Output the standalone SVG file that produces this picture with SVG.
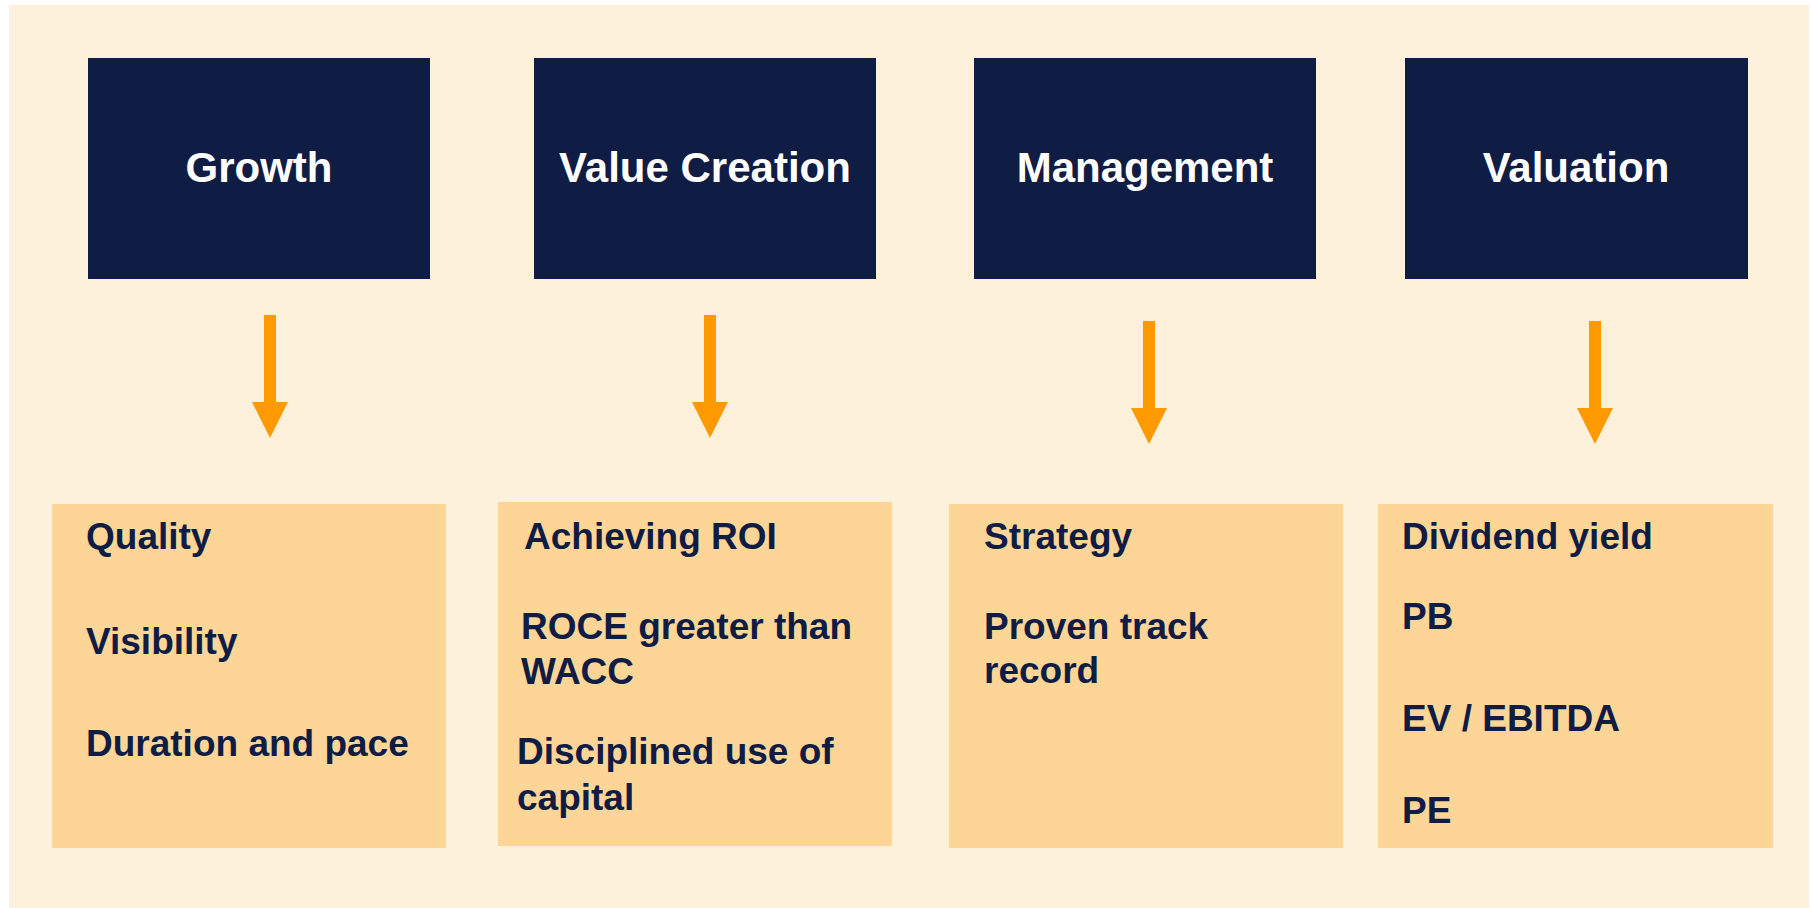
<svg xmlns="http://www.w3.org/2000/svg" width="1811" height="908" viewBox="0 0 1811 908">
<defs>
<style>
.bg{fill:#FEF1DB}
.head{fill:#0F1C44}
.card{fill:#FDD597}
.ht{font-family:"Liberation Sans",Arial,sans-serif;font-weight:bold;font-size:42px;fill:#FFFFFF;text-anchor:middle}
.bt{font-family:"Liberation Sans",Arial,sans-serif;font-weight:bold;font-size:37px;fill:#0F1C44}
.arr{stroke:#FF9900;stroke-width:12;fill:none;marker-end:url(#ah)}
</style>
<marker id="ah" markerUnits="userSpaceOnUse" markerWidth="36" markerHeight="36" viewBox="0 0 36 36" refX="0" refY="18" orient="auto">
<path d="M0,0 L36,18 L0,36 z" fill="#FF9900"/>
</marker>
</defs>
<rect class="bg" x="9" y="5" width="1800" height="903"/>

<g id="growth">
<rect class="head" x="88" y="58" width="342" height="221"/>
<text class="ht" x="259" y="182">Growth</text>
</g>
<g id="value-creation">
<rect class="head" x="534" y="58" width="342" height="221"/>
<text class="ht" x="705" y="182">Value Creation</text>
</g>
<g id="management">
<rect class="head" x="974" y="58" width="342" height="221"/>
<text class="ht" x="1145" y="182">Management</text>
</g>
<g id="valuation">
<rect class="head" x="1405" y="58" width="343" height="221"/>
<text class="ht" x="1576" y="182">Valuation</text>
</g>

<g id="growth-details">
<rect class="card" x="52" y="504" width="394" height="344"/>
<text class="bt" x="86" y="549">Quality</text>
<text class="bt" x="86" y="654">Visibility</text>
<text class="bt" x="86" y="756">Duration and pace</text>
</g>
<g id="value-creation-details">
<rect class="card" x="498" y="502" width="394" height="344"/>
<text class="bt" x="524" y="549">Achieving ROI</text>
<text class="bt" x="521" y="639">ROCE greater than</text>
<text class="bt" x="521" y="684">WACC</text>
<text class="bt" x="517" y="764">Disciplined use of</text>
<text class="bt" x="517" y="810">capital</text>
</g>
<g id="management-details">
<rect class="card" x="949" y="504" width="394" height="344"/>
<text class="bt" x="984" y="549">Strategy</text>
<text class="bt" x="984" y="639">Proven track</text>
<text class="bt" x="984" y="683">record</text>
</g>
<g id="valuation-details">
<rect class="card" x="1378" y="504" width="395" height="344"/>
<text class="bt" x="1402" y="549">Dividend yield</text>
<text class="bt" x="1402" y="629">PB</text>
<text class="bt" x="1402" y="731">EV / EBITDA</text>
<text class="bt" x="1402" y="823">PE</text>
</g>

<g id="connectors">
<line class="arr" x1="270" y1="315" x2="270" y2="402"/>
<line class="arr" x1="710" y1="315" x2="710" y2="402"/>
<line class="arr" x1="1149" y1="321" x2="1149" y2="408"/>
<line class="arr" x1="1595" y1="321" x2="1595" y2="408"/>
</g>
</svg>
